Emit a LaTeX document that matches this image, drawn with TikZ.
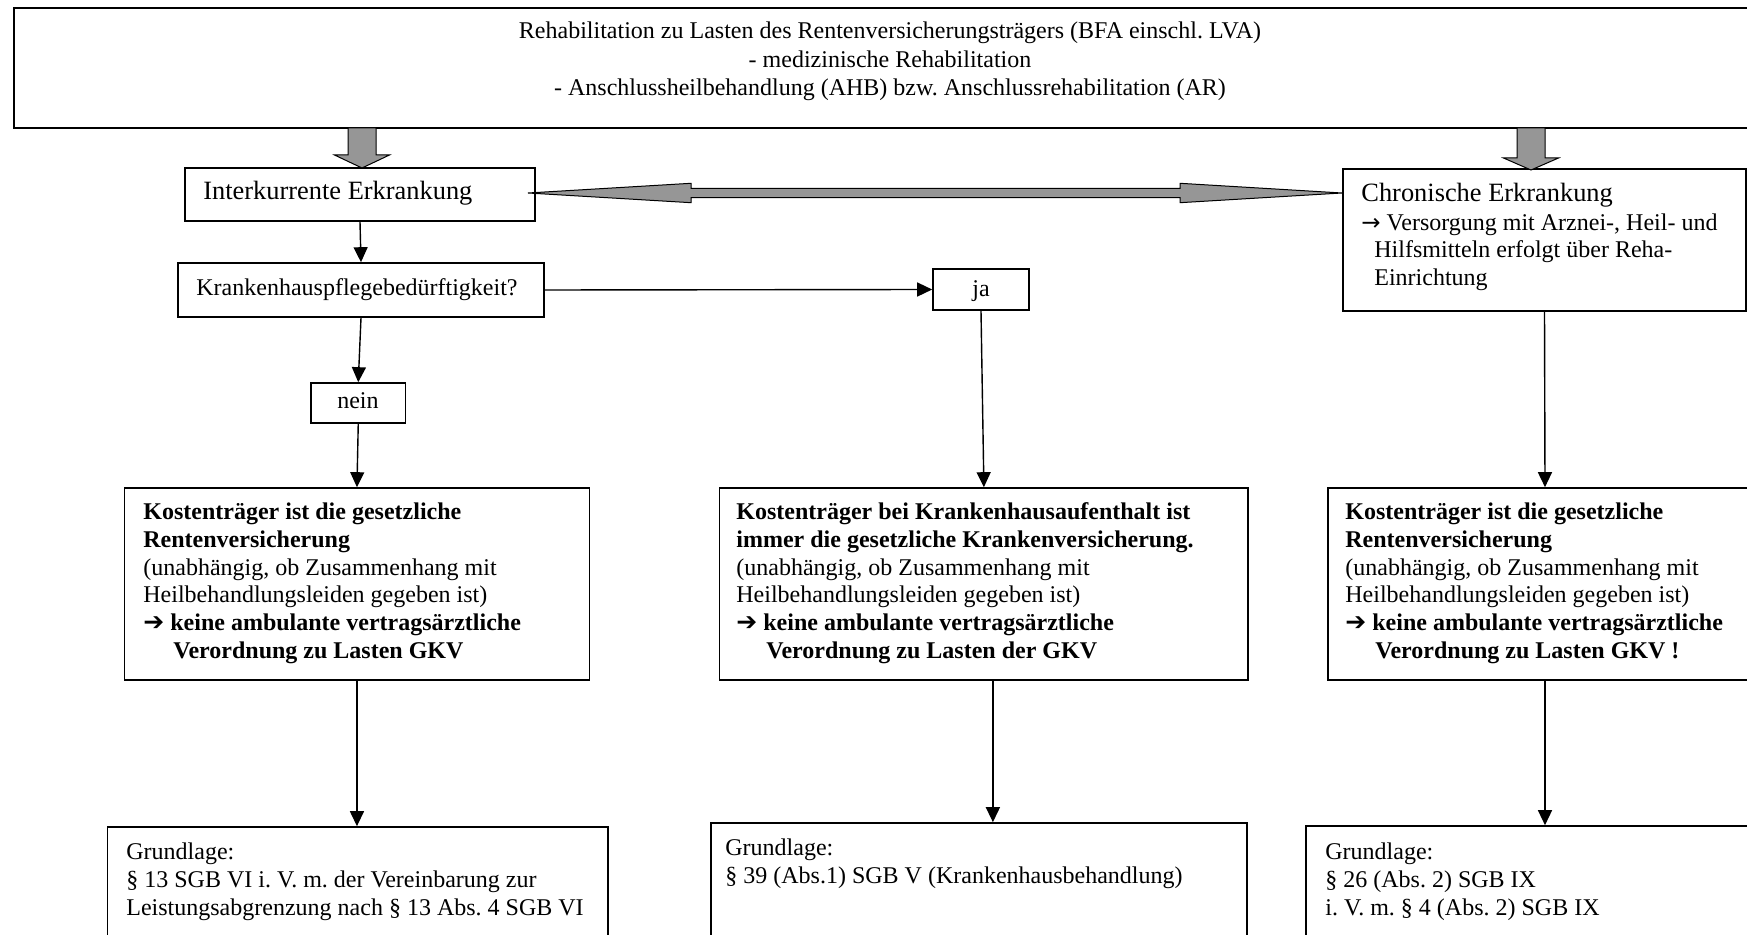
\documentclass[tikz,border=0pt]{standalone}
\usepackage{fontspec}
\setmainfont{Liberation Serif}
\newfontfamily\djvfont{DejaVu Sans}
\usetikzlibrary{fit,arrows.meta}
\definecolor{fatgray}{RGB}{150,150,150}
\newcommand{\bodyfs}{\fontsize{12}{13.85}\selectfont}
\newcommand{\topfs}{\fontsize{12}{14.2}\selectfont}
\newcommand{\headfs}{\fontsize{13.2}{15}\selectfont}
\newcommand{\barr}{{\djvfont\fontsize{12.5}{13.85}\selectfont ➔}}
\newcommand{\tarr}{{\djvfont\fontsize{11.5}{13.85}\selectfont →}}
\frenchspacing
\begin{document}
\begin{tikzpicture}[x=0.5pt,y=-0.5pt,
  box/.style={draw=black, line width=0.8pt, inner sep=0pt, fill=white},
  txt/.style={inner sep=0pt, anchor=north west, align=left, font=\bodyfs},
  one/.style={inner sep=0pt, font=\bodyfs},
  conn/.style={draw=black, line width=0.7pt, -{Triangle[length=7.5pt,width=7pt]}},
  fat/.style={draw=black, line width=0.5pt, fill=fatgray},
]
\useasboundingbox (0,0) rectangle (1747,935);
\fill[white] (0,0) rectangle (1747,935);
\clip (0,0) rectangle (1747,935);

% boxes
\node[box, line width=1pt, fit={(14,8) (1775,128)}] (T) {};
\node[box, fit={(185,168) (535,221)}] (I) {};
\node[box, fit={(1343,169) (1746,311)}] (C) {};
\node[box, fit={(178,263) (544,317)}] (K) {};
\node[box, fit={(933,269) (1029,310)}] (J) {};
\node[box, fit={(311,383) (405.5,423)}] (N) {};
\node[box, fit={(124.6,488) (589.3,680)}] (L) {};
\node[box, fit={(719.6,488) (1248.2,680)}] (M) {};
\node[box, fit={(1328,488) (1762,680)}] (R) {};
\node[box, fit={(107.3,827) (608,950)}] (BL) {};
\node[box, fit={(711,823) (1247,950)}] (BM) {};
\node[box, fit={(1306,826) (1784,950)}] (BR) {};

% texts
\node[inner sep=0pt, anchor=north, align=center, font=\topfs] (Tt) at (890,18.4)
  {\strut Rehabilitation zu Lasten des Rentenversicherungsträgers (BFA einschl. LVA)\\
   - medizinische Rehabilitation\\
   - Anschlussheilbehandlung (AHB) bzw. Anschlussrehabilitation (AR)};
\node[one, font=\headfs, anchor=base west] (It) at (203,200) {Interkurrente Erkrankung};
\node[one, font=\headfs, anchor=base west] (Ct) at (1361,202) {Chronische Erkrankung};
\node[txt] (Cb) at (1361,210.3)
  {\strut\tarr\ Versorgung mit Arznei-, Heil- und\\
   \hspace*{6.5pt}Hilfsmitteln erfolgt über Reha-\\
   \hspace*{6.5pt}Einrichtung};
\node[one, anchor=base west] (Kt) at (196,296) {Krankenhauspflegebedürftigkeit?};
\node[one, anchor=base] (Jt) at (981,297) {ja};
\node[one, anchor=base] (Nt) at (358,409) {nein};

\node[txt] (Lt) at (143,499.9)
  {\strut\textbf{Kostenträger ist die gesetzliche}\\
   \textbf{Rentenversicherung}\\
   (unabhängig, ob Zusammenhang mit\\
   Heilbehandlungsleiden gegeben ist)\\
   \barr\ \textbf{keine ambulante vertragsärztliche}\\
   \hspace*{15pt}\textbf{Verordnung zu Lasten GKV}};
\node[txt] (Mt) at (736,499.9)
  {\strut\textbf{Kostenträger bei Krankenhausaufenthalt ist}\\
   \textbf{immer die gesetzliche Krankenversicherung.}\\
   (unabhängig, ob Zusammenhang mit\\
   Heilbehandlungsleiden gegeben ist)\\
   \barr\ \textbf{keine ambulante vertragsärztliche}\\
   \hspace*{15pt}\textbf{Verordnung zu Lasten der GKV}};
\node[txt] (Rt) at (1345,499.9)
  {\strut\textbf{Kostenträger ist die gesetzliche}\\
   \textbf{Rentenversicherung}\\
   (unabhängig, ob Zusammenhang mit\\
   Heilbehandlungsleiden gegeben ist)\\
   \barr\ \textbf{keine ambulante vertragsärztliche}\\
   \hspace*{15pt}\textbf{Verordnung zu Lasten GKV !}};

\node[txt] (BLt) at (126,840.1)
  {\strut Grundlage:\\
   § 13 SGB VI i. V. m. der Vereinbarung zur\\
   Leistungsabgrenzung nach § 13 Abs. 4 SGB VI};
\node[txt] (BMt) at (725,835.6)
  {\strut Grundlage:\\
   § 39 (Abs.1) SGB V (Krankenhausbehandlung)};
\node[txt] (BRt) at (1325,840.1)
  {\strut Grundlage:\\
   § 26 (Abs. 2) SGB IX\\
   i. V. m. § 4 (Abs. 2) SGB IX};

% block arrows
\draw[fat] (348,128) -- (348,155) -- (334.5,155) -- (362,168) -- (389.5,155) -- (376,155) -- (376,128) -- cycle;
\draw[fat] (1517,128) -- (1517,158) -- (1503.5,158) -- (1531,170) -- (1558.5,158) -- (1545,158) -- (1545,128) -- cycle;
\draw[fat] (528,193) -- (691,183.3) -- (691,188.3) -- (1180,188.3) -- (1180,183.3) -- (1342,193)
  -- (1180,202.7) -- (1180,197.7) -- (691,197.7) -- (691,202.7) -- cycle;

% connectors
\draw[conn] (I.south) -- (K.north);
\draw[conn] (K.south) -- (N.north);
\draw[conn] (N.south) -- (L.north);
\draw[conn] (K.east) -- (J.west);
\draw[conn] (J.south) -- (M.north);
\draw[conn] (C.south) -- (R.north);
\draw[conn] (L.south) -- (L.south |- BL.north);
\draw[conn] ([xshift=4.5pt]M.south) -- ([xshift=4.5pt]M.south |- BM.north);
\draw[conn] (R.south) -- (R.south |- BR.north);
\end{tikzpicture}
\end{document}
